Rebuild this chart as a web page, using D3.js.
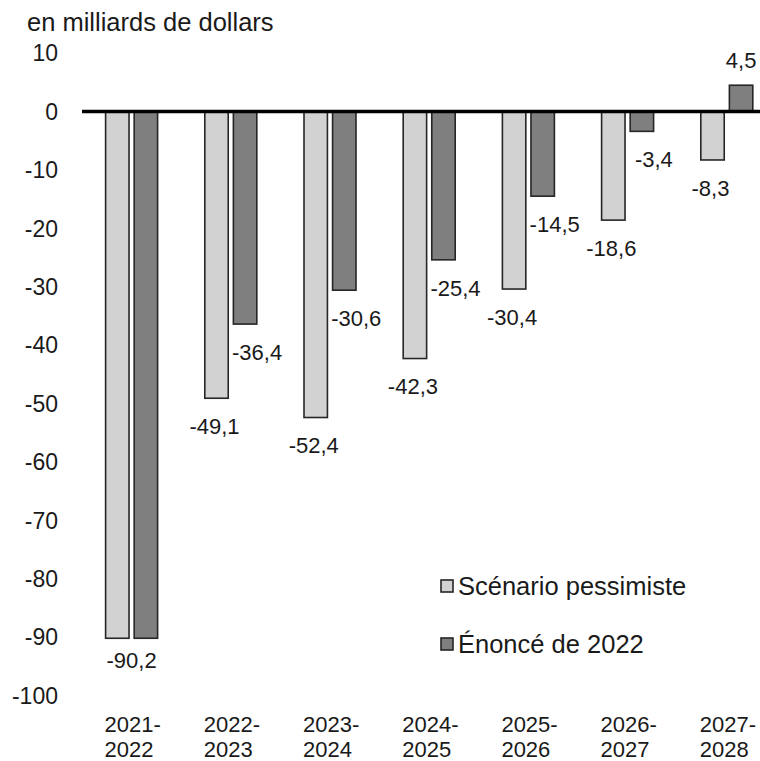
<!DOCTYPE html>
<html>
<head>
<meta charset="utf-8">
<script src="https://d3js.org/d3.v7.min.js"></script>
<style>
  body { margin: 0; background: #fff; }
  text { font-family: "Liberation Sans", Arial, sans-serif; fill: #1a1a1a; }
</style>
</head>
<body>
<svg id="chart" width="760" height="761"></svg>
<script>
// data
var years = ["2021-2022", "2022-2023", "2023-2024", "2024-2025", "2025-2026", "2026-2027", "2027-2028"];
var seriesNames = ["Scénario pessimiste", "Énoncé de 2022"];
var pessimiste = [-90.2, -49.1, -52.4, -42.3, -30.4, -18.6, -8.3];
var enonce = [-90.2, -36.4, -30.6, -25.4, -14.5, -3.4, 4.5];
var yTicks = [10, 0, -10, -20, -30, -40, -50, -60, -70, -80, -90, -100];
var colors = ["#d3d2d3", "#7f7f7f"];

var svg = d3.select("#chart");

var x = d3.scaleBand()
    .domain(years)
    .range([82, 82 + 7 * 99.2])
    .padding(0);

var xs = d3.scaleBand()
    .domain([0, 1])
    .range([23.6, 75.6])
    .paddingInner(0.18);

var y = d3.scaleLinear()
    .domain([-100, 10])
    .range([695.5, 53.1]);

var fmt = function(v) { return String(v).replace(".", ","); };

// title
svg.append("text")
    .attr("x", 27)
    .attr("y", 31)
    .style("font-size", "25.5px")
    .text("en milliards de dollars");

// y tick labels
svg.append("g")
    .selectAll("text")
    .data(yTicks)
    .enter()
    .append("text")
    .attr("x", 58)
    .attr("y", function(d) { return y(d); })
    .attr("dy", "0.36em")
    .attr("text-anchor", "end")
    .style("font-size", "23px")
    .text(function(d) { return d; });

// bars
var rows = years.map(function(yr, i) {
    return { year: yr, values: [pessimiste[i], enonce[i]] };
});

var groups = svg.append("g")
    .selectAll("g")
    .data(rows)
    .enter()
    .append("g")
    .attr("transform", function(d) { return "translate(" + x(d.year) + ",0)"; });

groups.selectAll("rect")
    .data(function(d) { return d.values.map(function(v, s) { return { v: v, s: s }; }); })
    .enter()
    .append("rect")
    .attr("x", function(d) { return xs(d.s); })
    .attr("width", xs.bandwidth())
    .attr("y", function(d) { return Math.min(y(d.v), y(0)); })
    .attr("height", function(d) { return Math.abs(y(d.v) - y(0)); })
    .style("fill", function(d) { return colors[d.s]; })
    .style("stroke", "#262626")
    .style("stroke-width", 1.6);

// data labels
groups.each(function(d) {
    var g = d3.select(this);
    var same = d.values[0] === d.values[1];
    d.values.forEach(function(v, s) {
        if (same && s === 0) return;
        var cx = same ? x.bandwidth() / 2 : xs(s) + xs.bandwidth() / 2;
        if (!same && v < 0) cx += (s === 1 ? 12 : -2);
        var cy = v < 0 ? y(v) + (same ? 22 : 28) : y(v) - 25;
        g.append("text")
            .attr("x", cx)
            .attr("y", cy)
            .attr("dy", "0.36em")
            .attr("text-anchor", "middle")
            .style("font-size", "22px")
            .text(fmt(v));
    });
});

// zero line
svg.append("line")
    .attr("x1", 82)
    .attr("x2", 760)
    .attr("y1", y(0))
    .attr("y2", y(0))
    .style("stroke", "#000")
    .style("stroke-width", 3.5);

// category labels (two lines)
var cat = svg.append("g")
    .selectAll("text")
    .data(years)
    .enter()
    .append("text")
    .attr("x", function(d) { return x(d) + x.bandwidth() / 2 - 27; })
    .attr("y", 732)
    .style("font-size", "22px");
cat.append("tspan")
    .text(function(d) { return d.split("-")[0] + "-"; });
cat.append("tspan")
    .attr("x", function(d) { return x(d) + x.bandwidth() / 2 - 27; })
    .attr("dy", 24.5)
    .text(function(d) { return d.split("-")[1]; });

// legend
var legend = svg.append("g")
    .selectAll("g")
    .data(seriesNames)
    .enter()
    .append("g")
    .attr("transform", function(d, i) { return "translate(441," + (580 + i * 58) + ")"; });
legend.append("rect")
    .attr("width", 12)
    .attr("height", 12)
    .style("fill", function(d, i) { return colors[i]; })
    .style("stroke", "#262626")
    .style("stroke-width", 1.6);
legend.append("text")
    .attr("x", 17)
    .attr("y", 6)
    .attr("dy", "0.36em")
    .style("font-size", "25.5px")
    .text(function(d) { return d; });
</script>
</body>
</html>
